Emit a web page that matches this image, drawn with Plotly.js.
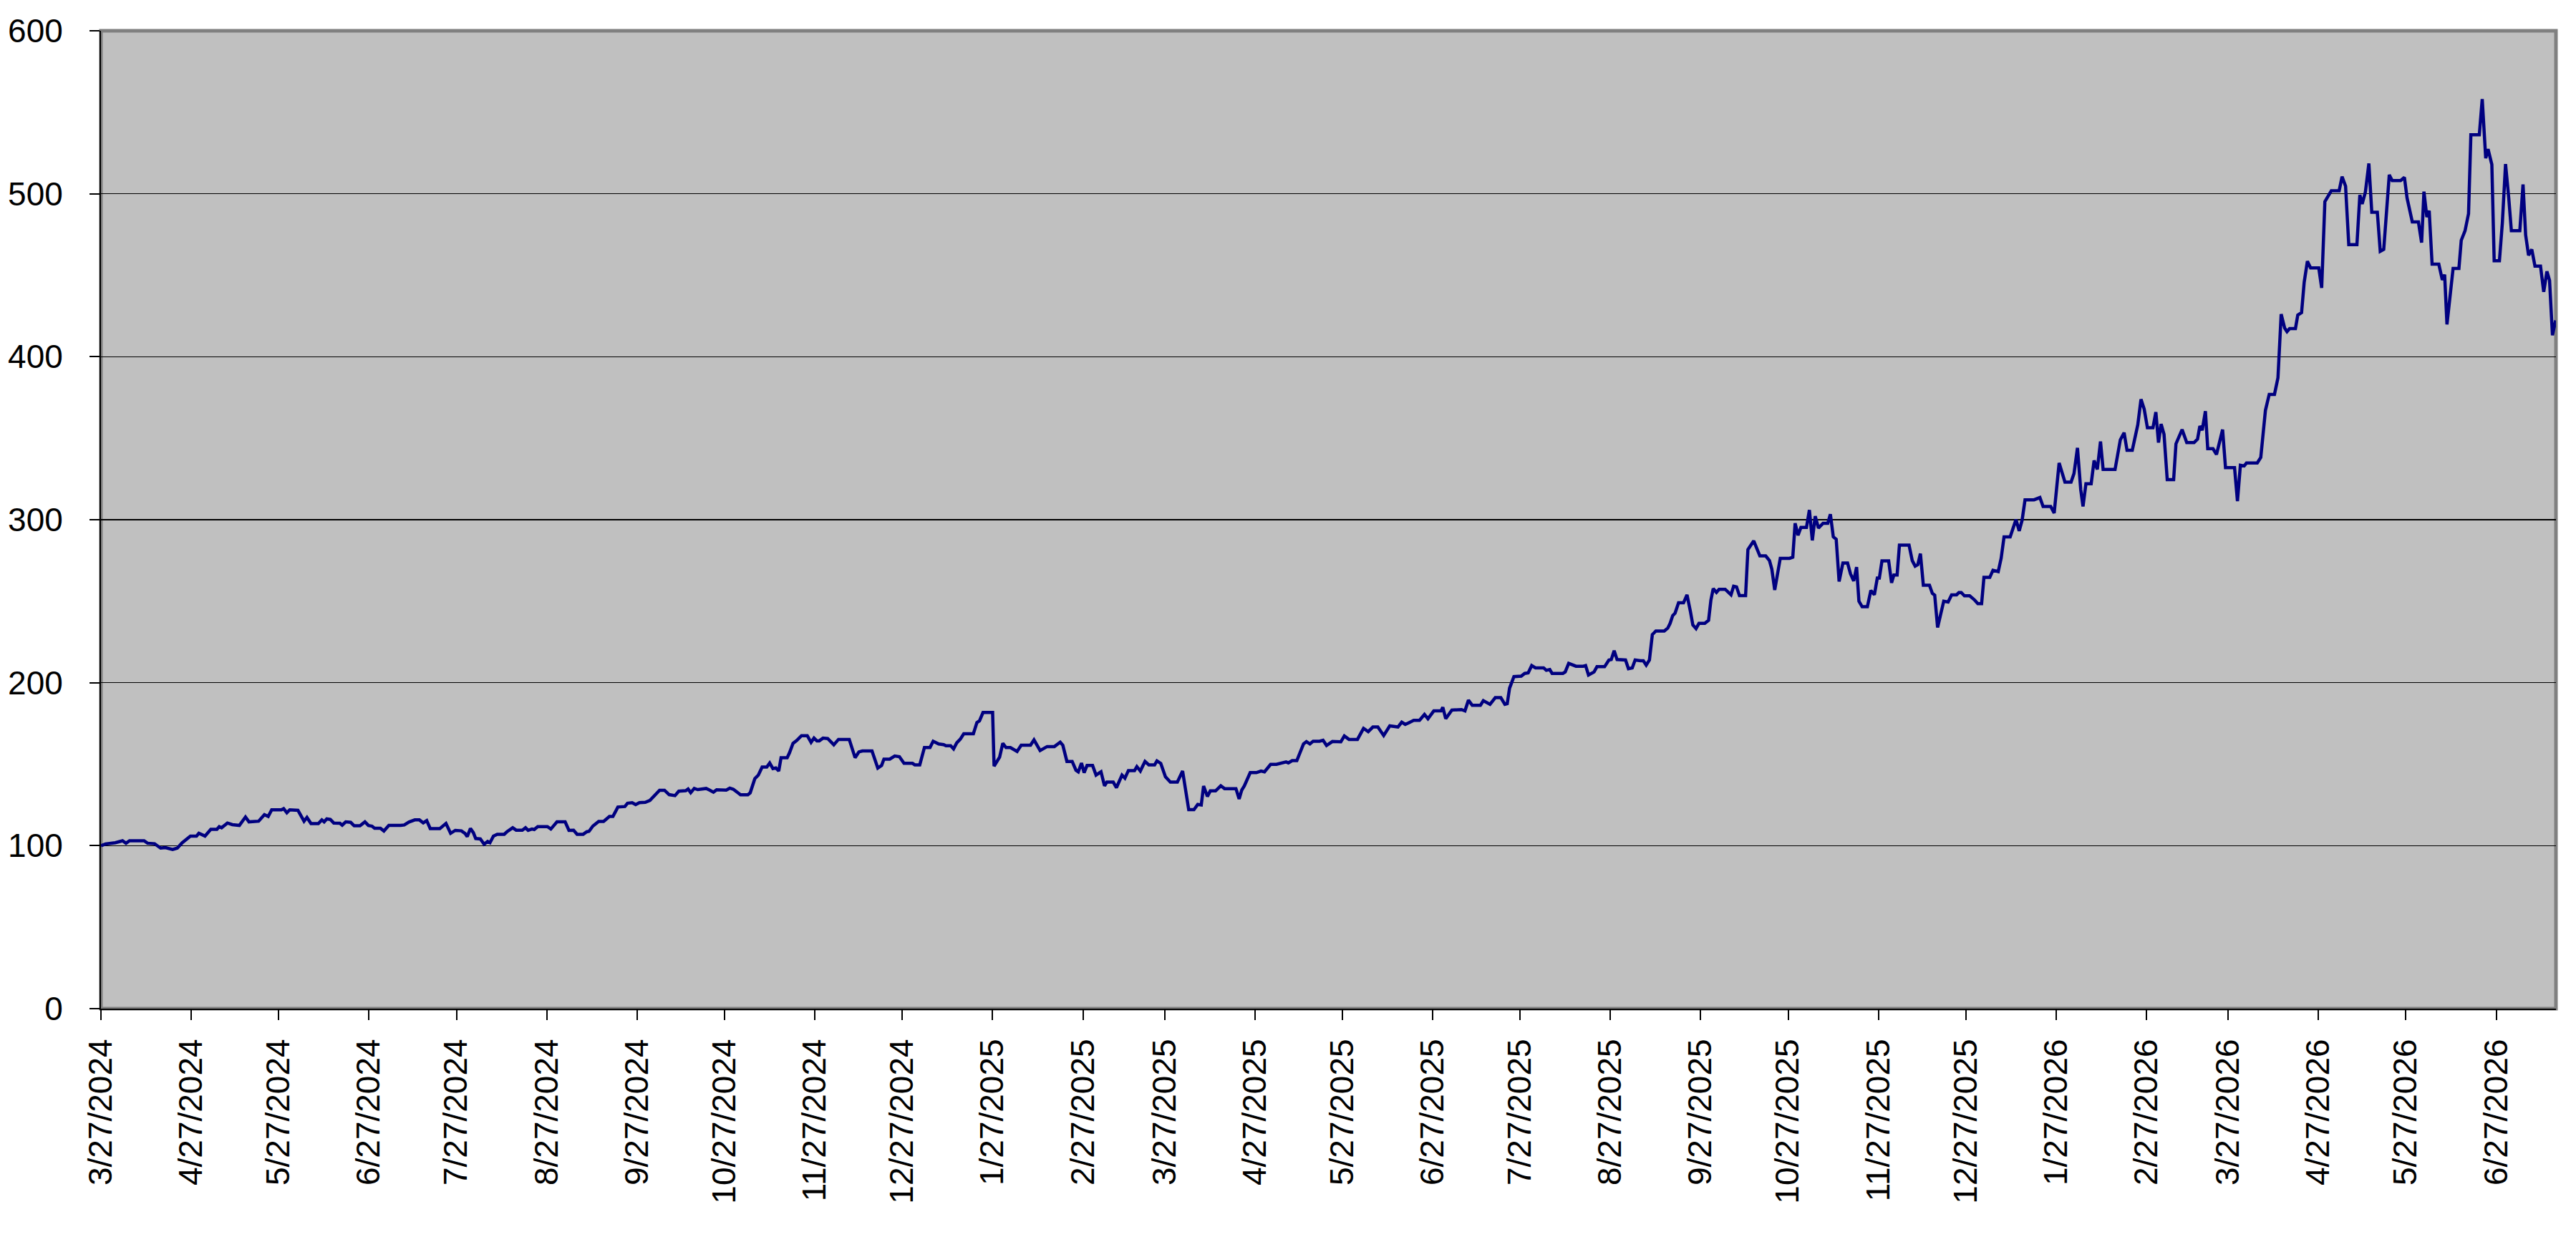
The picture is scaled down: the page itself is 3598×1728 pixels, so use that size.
<!DOCTYPE html>
<html>
<head>
<meta charset="utf-8">
<script src="https://cdn.plot.ly/plotly-3.0.1.min.js"></script>
<style>
  html, body { margin: 0; padding: 0; background: #fff; }
  #chart { width: 3598px; height: 1728px; }
</style>
</head>
<body>
<div id="chart"></div>
<script>
// start of the series, the x axis counts days from here
var startDate = '2024-03-27'

// values, in pieces (day offset from start, index value)
var days1 = [0,1.6,4.9,7.4,8.6,9.8,14.8,16.0,18.4,20.5,
	22.1,24.6,26.2,27.9,30.7,32.8,33.6,35.7,37.7,39.8,
	40.6,41.4,43.4,45.1,47.5,49.6,50.8,54.1,56.1,57.4,
	58.6,61.9,62.7,63.8,64.8,67.6,69.7,70.7,72.1,74.6,
	75.8,76.6,77.5,78.7,79.9,82.0,82.8,84.0,85.7,86.9,
	88.9,90.6,91.8,93.0,93.9,95.9,97.1,98.8,102.9,104.1]
var vals1 = [100,101,101.8,103,101.5,103,103,101.5,101.2,98.5,
	98.8,97.7,98.5,101.8,105.9,105.9,107.6,105.9,110,110,
	111.7,111,113.9,112.9,112.4,117.6,114.6,115,119,117.9,
	122,122,122.7,120.2,122,121.7,115,117.3,113.5,113.5,
	115.8,114.6,116.4,116.1,113.9,113.8,112.6,114.6,114.3,112.2,
	112.2,114.6,112.4,112,110.7,110.7,109,112.4,112.4,112.7]

var days2 = [105.7,107.7,109.3,110.6,111.8,113.0,116.3,118.4,120.0,121.6,
	123.7,124.9,125.7,126.8,127.8,128.6,130.2,131.5,132.7,133.5,
	134.7,136.0,138.4,139.3,141.3,142.5,144.6,145.7,146.6,147.9,
	148.7,149.9,153.2,154.4,156.5,159.3,160.6,162.2,163.4,165.5,
	166.7,167.5,168.8,170.8,172.5,174.5,175.7,177.4,179.8,180.7,
	182.3,183.5,184.8,186.8,188.4,190.1,191.7,193.4,195.0,197.0,
	198.3,200.7,201.5,202.4,203.6,204.8,207.7,208.9,210.2]
var vals2 = [114.5,115.8,115.8,114,115.4,110.5,110.5,113.6,107.6,109.4,
	109.1,107.6,105.6,110.5,108,104.4,104.1,100.9,102.6,101.8,
	105.9,107,107,108.5,111,109.5,109.5,111,109.4,110.2,
	109.9,111.7,111.7,110.2,114.6,114.6,109.4,109.5,107,107,
	108.5,108.8,112,114.9,114.9,117.9,117.9,123.7,124,126,
	126.4,125.2,126.4,126.6,127.8,130.7,134,134,131.3,130.7,
	133.4,133.7,134.8,132.5,135.1,134.4,135.1,134.1,132.8]

var days3 = [211.3,214.6,215.8,217.0,219.5,222.0,222.8,224.4,225.6,226.9,
	228.5,229.5,230.6,231.6,232.6,233.4,235.5,236.3,237.5,238.8,
	240.4,242.4,243.7,244.7,245.7,246.5,247.8,249.4,251.5,253.1,
	256.8,258.8,260.1,261.3,264.6,266.6,267.9,268.7,270.7,272.4,
	274.0,275.6,278.5,279.3,281.0,282.6,284.5,285.6,287.5,289.2,
	290.0,291.6,292.6,293.7,294.9,296.1,299.4,300.6,301.5,302.7,
	306.0,306.5,308.4,309.5,310.6,312.1,314.4,315.8]
var vals3 = [134.3,134.1,135.3,134.6,131.2,131.2,132.4,141.1,143.3,148.2,
	148.2,150.7,147.3,147.7,145.8,154,154,157,162.8,164.6,
	167.5,167.5,163.4,166,164.3,164.3,166,165.7,161.9,165.2,
	165.2,154,157.5,158.1,158.1,147.6,149.2,153.1,153.1,155,
	154.6,150.5,150.5,149.6,149.6,160.2,160.2,164.1,162.4,162,
	161.3,161.3,159.4,163.1,165.3,168.7,168.7,175.5,176.6,181.7,
	181.7,148.8,154.3,162.8,160.2,160.2,157.8,161.6]

var days4 = [317.0,319.0,320.2,322.3,324.7,327.2,329.2,330.1,331.5,333.3,
	334.6,335.4,336.5,337.4,338.4,340.3,341.5,343.2,344.4,345.2,
	347.4,348.5,350.4,351.4,352.6,354.7,355.5,356.7,358.3,359.6,
	361.6,362.4,363.7,365.3,367.0,369.4,371.2,373.3,375.1,376.4,
	377.6,378.4,379.7,380.7,382.5,384.3,385.6,389.5,390.6,391.5,
	392.4,394.4,396.5,398.1,399.3,401.4,403.4,405.1,406.7,407.5,
	408.8,410.4,412.7,413.7,414.9,416.0,418.2,419.4,420.6]
var vals4 = [161.6,161.6,164.9,158.4,160.8,160.8,163.5,161.6,151.7,151.7,
	146.3,145.3,150.7,144.8,149.2,149.2,143.3,145.3,136.7,139,
	139,135.6,143.3,141.4,146.1,146.1,148.5,145.8,151.7,149.6,
	149.6,152,150.5,142.3,139,139,145.8,122.1,122.1,125.3,
	125,136.6,130.2,133.6,133.6,136.7,135,135,128.7,134.1,
	136.7,144.8,144.8,145.8,145.3,149.9,149.9,150.6,151.4,150.8,
	152.2,152.2,162.4,163.8,162.4,164.1,164.1,164.7,161.5]

var days5 = [422.6,425.5,426.7,428.3,431.2,433.3,434.9,436.5,438.2,440.2,
	442.3,445.1,446.4,447.6,448.8,450.5,452.5,454.2,455.4,457.4,
	459.9,460.5,461.5,463.6,466.9,468.1,469.3,470.6,473.4,474.4,
	476.7,478.5,480.4,481.8,482.6,483.4,484.9,487.4,488.6,489.8,
	491.0,492.3,495.1,496.0,497.2,498.0,501.7,502.5,503.7,506.2,
	508.7,509.5,510.5,512.4,513.4,516.0,517.5,518.3,519.3,520.3,
	523.2,524.2,525.5,526.5]
var vals5 = [163.9,163.7,167.3,165.2,165.2,172,170,172.8,172.8,167.6,
	173.5,172.8,175.8,174.4,175.4,176.9,176.9,180.5,177.9,182.7,
	182.7,184.9,177.9,183.2,183.5,182.7,189.3,186.1,186.1,189,
	186.7,190.8,190.8,186.7,187.1,196.6,203.7,204,205.7,206,
	210.5,209.1,209.1,207.6,208.1,205.7,205.7,206.6,211.9,210.1,
	210.1,210.5,204.7,206.6,209.8,209.8,213.9,214.2,219.6,214.2,
	213.9,208.6,209.1,213.9]

var days6 = [528.3,529.3,530.3,531.4,532.4,533.6,536.5,537.7,538.5,539.4,
	540.2,541.4,543.1,544.3,545.5,546.3,547.4,548.4,550.4,551.7,
	552.5,553.3,554.4,555.3,557.4,558.6,559.4,560.3,561.3,562.3,
	564.4,565.2,567.2,569.3,571.3,572.6,573.4,574.4,576.3,579.5,
	580.6,581.4,582.4,583.4,585.3,586.3,587.3,588.3,589.4,591.0,
	592.6,593.5,594.5,595.5,596.5,597.8,599.4,600.4,601.5,602.5,
	603.3,604.4,606.2,607.4,608.6,609.6,610.3,611.2,613.5,614.5,
	615.3,616.4,617.2,620.5,621.6,622.6,623.5,624.4,625.4,627.5,
	628.5,629.3,630.3,632.4]
var vals6 = [213.5,213.5,210.8,213.9,229.5,231.7,231.7,233.5,236.4,241.2,
	242.7,249,249,253.9,243.4,235.4,233.2,236.4,236.4,238.3,
	250.7,257.7,255.4,257.3,257.3,255.1,253.9,259.2,258.8,253.4,
	253.4,281.7,287,277.8,277.8,274.9,269.7,256.9,276.3,276.3,
	277,297.8,290.5,295.3,295.3,306,287.3,302.2,294.9,297.8,
	297.8,303.4,289.5,288,262.1,273.4,273.4,266.8,262.4,270.9,
	250,246.6,246.6,256.6,253.9,264.2,264.2,274.7,274.7,261.3,
	266.1,266.1,284.4,284.4,274.9,271.5,272.4,279.2,259.8,259.8,
	254.8,253.7,233.9,250]

var days7 = [633.9,635.1,636.8,637.6,638.4,639.5,641.3,642.9,644.1,645.4,
	646.2,648.2,649.3,651.1,652.1,653.1,655.2,657.2,658.3,659.3,
	660.3,663.4,665.4,666.5,669.1,670.3,672.0,674.0,676.1,677.1,
	678.3,679.4,680.2,681.2,683.0,684.0,685.1,686.2,687.1,691.2,
	693.0,694.3,695.3,697.1,699.0,700.1,701.2,702.3,704.2,705.2,
	706.1,707.0,708.0,709.1,711.3,712.1,714.2,715.8,718.3,719.5,
	720.3,721.1,722.2,723.0,724.8,726.0,727.3,728.1,729.1,732.2,
	733.2,734.2,735.5,736.3,740.0,741.2,742.8,744.1,745.9,747.1,
	748.2]
var vals7 = [249.5,253.9,253.9,255.3,255.3,253.3,253.3,250.9,248.5,248.5,
	264.6,264.6,269,268.2,276.3,289.5,289.5,300.1,293.1,299.7,
	312.2,312.2,313.6,308.1,308.1,304.1,334.8,323.1,323.1,328.3,
	344.1,318.7,308.1,322.1,322.1,336.3,330.9,348,330.9,330.9,
	349,353.4,342.6,342.6,358.3,373.9,367.8,356.4,356.4,366,
	347.3,358.7,352.4,324.6,324.6,346.6,355.3,347.3,347.3,349.5,
	357.5,354.9,366.6,343.6,343.6,340,348.8,355.3,331.9,331.9,
	311.4,333.4,333,334.8,334.8,338.2,367.1,376.9,376.9,387.1,
	426.1]

var days8 = [749.4,750.2,751.1,753.1,753.9,755.2,756.1,757.2,758.3,761.1,
	762.1,763.2,764.2,765.4,768.1,769.1,770.3,771.4,774.2,775.2,
	776.0,777.1,778.3,779.3,781.2,782.2,783.4,785.3,786.3,789.2,
	790.5,791.4,793.2,795.3,796.4,797.2,798.2,799.0,800.0,802.3,
	803.5,804.3,805.1,807.2,809.2,810.0,811.3,812.5,813.3,816.2,
	817.2,818.4,819.2,820.5,821.3,823.1,824.1,825.2,826.3,827.2,
	830.1,831.2,832.1,833.1,834.2,835.3,837.2,838.3,839.4,840.3,
	841.3,842.4]
var vals8 = [417.6,415.4,417.3,417.3,425.6,427.1,445.7,458.6,454.5,454.5,
	442.2,495.2,498.4,501.8,501.8,510.5,504.7,468.8,468.8,499.3,
	493.7,501,518.6,488.6,488.6,464.7,465.9,511.6,508.1,508.1,
	510.1,497.4,482.7,482.7,470,501.3,485.7,489.6,456.8,456.8,
	447.1,450.4,419.8,454.2,454.2,471.4,477.3,487.8,536.2,536.2,
	558.1,521.8,527.4,517.9,458.9,458.9,482,518.2,497.4,477.3,
	477.3,505.7,474.7,462.2,465.9,455.6,455.6,439.8,452.4,446.9,
	413.2,422.3]

// x axis labels, one per month
var tickLabels = ['3/27/2024','4/27/2024','5/27/2024','6/27/2024','7/27/2024',
	'8/27/2024','9/27/2024','10/27/2024','11/27/2024','12/27/2024',
	'1/27/2025','2/27/2025','3/27/2025','4/27/2025','5/27/2025','6/27/2025',
	'7/27/2025','8/27/2025','9/27/2025','10/27/2025','11/27/2025','12/27/2025',
	'1/27/2026','2/27/2026','3/27/2026','4/27/2026','5/27/2026','6/27/2026']

var yTicks = [0, 100, 200, 300, 400, 500, 600]


var allDays = [].concat(days1, days2, days3, days4, days5, days6, days7, days8)
var allVals = [].concat(vals1, vals2, vals3, vals4, vals5, vals6, vals7, vals8)

var base = Date.parse(startDate + 'T00:00:00Z')
function dayToDate(d) {
	return new Date(base + d * 86400000).toISOString().slice(0, 19).replace('T', ' ')
}
function labelToDate(s) {
	var p = s.split('/')
	var mm = ('0' + p[0]).slice(-2)
	var dd = ('0' + p[1]).slice(-2)
	return p[2] + '-' + mm + '-' + dd
}

var xs = allDays.map(dayToDate)
var tickVals = tickLabels.map(labelToDate)

var font = 'Liberation Sans, Arial, sans-serif'

var data = [{
	x: xs,
	y: allVals,
	type: 'scatter',
	mode: 'lines',
	line: {color: '#000080', width: 4.5},
	hoverinfo: 'skip'
}]

var layout = {
	width: 3598,
	height: 1728,
	margin: {l: 141, r: 28, t: 43, b: 319},
	paper_bgcolor: '#ffffff',
	plot_bgcolor: '#c0c0c0',
	showlegend: false,
	font: {family: font, size: 46, color: '#000'},
	xaxis: {
		type: 'date',
		range: [dayToDate(0), dayToDate(allDays[allDays.length - 1] + 0.1)],
		tickmode: 'array',
		tickvals: tickVals,
		ticktext: tickLabels,
		tickangle: -90,
		ticks: 'outside',
		ticklen: 14,
		tickwidth: 2,
		tickcolor: '#000',
		ticklabelstandoff: 8,
		tickfont: {family: font, size: 46, color: '#000'},
		showgrid: false,
		zeroline: false,
		showline: true,
		linecolor: '#000',
		linewidth: 2
	},
	yaxis: {
		range: [0, 600],
		tickmode: 'array',
		tickvals: yTicks,
		ticktext: yTicks.map(String),
		ticks: 'outside',
		ticklen: 14,
		tickwidth: 2,
		tickcolor: '#000',
		ticklabelstandoff: 28,
		tickfont: {family: font, size: 46, color: '#000'},
		showgrid: true,
		gridcolor: '#000',
		gridwidth: 1.5,
		zeroline: false,
		showline: true,
		linecolor: '#000',
		linewidth: 2
	},
	shapes: [{
		type: 'rect',
		xref: 'paper', yref: 'paper',
		x0: 0, x1: 1, y0: 0, y1: 1,
		line: {color: '#808080', width: 5},
		layer: 'below'
	}]
}

Plotly.newPlot('chart', data, layout, {displayModeBar: false, staticPlot: true})
</script>
</body>
</html>
